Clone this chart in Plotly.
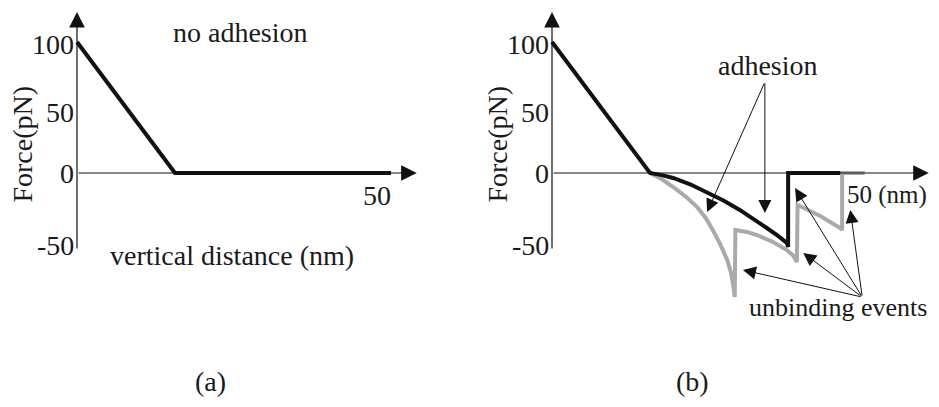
import plotly.graph_objects as go

# panel (a): approach only, no adhesion
a_dist = [0, 15.6, 50]
a_force = [100, 0, 0]

# panel (b): black = adhesion curve, gray = curve with unbinding events
b_black_dist = [0, 15.6, 17.5, 19.3, 22.0, 24.7, 27.3, 29.9, 32.1, 34.2, 36.0, 37.4, 37.6, 37.6, 45.9]
b_black_force = [100, 0, -1.6, -3.8, -8.6, -14.5, -21.0, -28.2, -35.0, -42.0, -48.0, -53.4, -56.5, 0, 0]

b_gray_dist = [15.6, 17.5, 19.3, 21.3, 23.1, 24.5, 25.6, 26.8, 27.9, 28.5, 28.9, 29.1,
               29.2, 31.0, 32.6, 35.2, 37.4, 38.4, 39.0,
               39.1, 39.8, 42.7, 45.9, 46.2,
               46.2, 49.8]
b_gray_force = [0, -4.8, -10.7, -18.0, -26.0, -34.5, -43.5, -54.5, -66.4, -76.0, -87.0, -94.7,
                -43.5, -45.0, -47.3, -52.7, -58.8, -63.0, -68.0,
                -24.4, -26.0, -32.8, -42.0, -43.5,
                0, 0]

tick_vals = [98, 46, 0, -55]
tick_text = ["100", "50", "0", "-50"]

FONT = dict(family="Liberation Serif", size=28, color="#1a1a1a")

fig = go.Figure()
fig.add_trace(go.Scatter(x=a_dist, y=a_force, mode="lines",
                         line=dict(color="#111111", width=4), xaxis="x", yaxis="y"))
fig.add_trace(go.Scatter(x=b_gray_dist, y=b_gray_force, mode="lines",
                         line=dict(color="#aaaaaa", width=4), xaxis="x2", yaxis="y2"))
fig.add_trace(go.Scatter(x=b_black_dist, y=b_black_force, mode="lines",
                         line=dict(color="#111111", width=4), xaxis="x2", yaxis="y2"))

ann = []


def arrow(xr, yr, x, y, ax, ay, w=1, size=2.6):
    ann.append(dict(x=x, y=y, ax=ax, ay=ay, xref=xr, yref=yr, axref=xr, ayref=yr,
                    text="", showarrow=True, arrowhead=2, arrowsize=size,
                    arrowwidth=w, arrowcolor="#111111", standoff=0))


def label(xr, yr, x, y, t, xanchor="center", angle=0, size=28):
    ann.append(dict(x=x, y=y, xref=xr, yref=yr, text=t, showarrow=False,
                    xanchor=xanchor, yanchor="middle", textangle=angle,
                    font=dict(FONT, size=size)))


for xr, yr, xend in [("x", "y", 54.1), ("x2", "y2", 60.0)]:
    arrow(xr, yr, 0, 122.9, 0, -58.8, w=1.2, size=2.6)
    arrow(xr, yr, xend, 0, 0, 0, w=1.2, size=2.6)
    for v, t in zip(tick_vals, tick_text):
        label(xr, yr, -0.2, v, t, xanchor="right")
    label(xr, yr, -8.7, 22, "Force(pN)", angle=-90)

label("x", "y", 26.0, 107.6, "no adhesion")
label("x", "y", 24.7, -62.6, "vertical distance (nm)")
label("x", "y", 47.8, -16.8, "50")
label("x", "y", 21.2, -159.5, "(a)")

label("x2", "y2", 34.4, 82.4, "adhesion")
label("x2", "y2", 60.0, -16.8, "50 (nm)", xanchor="right", size=25)
label("x2", "y2", 60.0, -103, "unbinding events", xanchor="right", size=26)
label("x2", "y2", 22.3, -159.5, "(b)")

# adhesion pointers
arrow("x2", "y2", 24.7, -29.8, 33.9, 69.5)
arrow("x2", "y2", 33.9, -30.5, 33.9, 69.5)
# unbinding event pointers
for hx, hy in [(30.4, -74), (40.0, -61), (38.7, -11.5), (47.5, -28.2)]:
    arrow("x2", "y2", hx, hy, 49.4, -94.7)

# page body has an 8px margin, so the figure is shrunk and shifted accordingly
OFF = 8
W, H = 939 - OFF, 407 - OFF
SPLIT = 469.5 - OFF
PX_NM, PX_PN = 6.28, 1.31
X0_A, X0_B, Y0 = 77, 552, 173


def xrange(p0, p1, origin):
    return [(p0 + OFF - origin) / PX_NM, (p1 + OFF - origin) / PX_NM]


yr = [(Y0 - (H + OFF)) / PX_PN, (Y0 - OFF) / PX_PN]
fig.update_layout(
    width=W, height=H, margin=dict(l=0, r=0, t=0, b=0),
    plot_bgcolor="white", paper_bgcolor="white", showlegend=False,
    xaxis=dict(domain=[0, SPLIT / W], range=xrange(0, SPLIT, X0_A), visible=False),
    xaxis2=dict(domain=[SPLIT / W, 1], range=xrange(SPLIT, W, X0_B), visible=False),
    yaxis=dict(domain=[0, 1], range=yr, visible=False, anchor="x"),
    yaxis2=dict(domain=[0, 1], range=yr, visible=False, anchor="x2"),
    annotations=ann,
)

fig.write_html("out.html")
